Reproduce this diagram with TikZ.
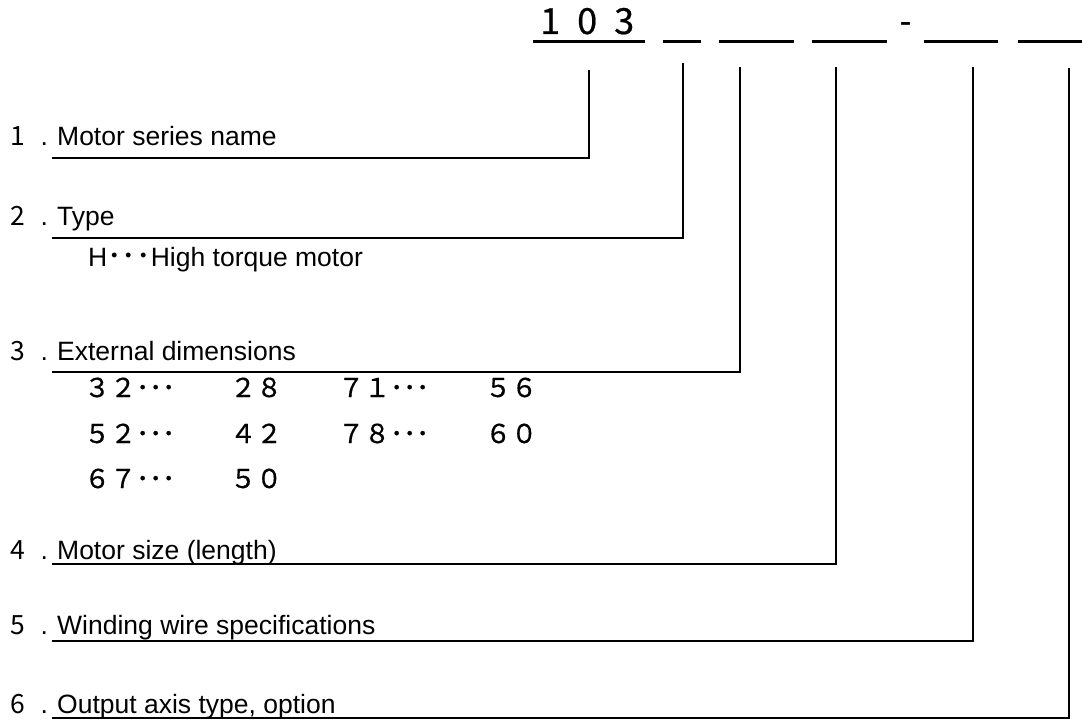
\documentclass[tikz,border=0pt]{standalone}
\usepackage{fontspec}
\setmainfont{Liberation Sans}
\newfontfamily\cjk{Noto Sans CJK JP}
\newfontfamily\cjkb[FakeBold=0.6]{Noto Sans CJK JP}
\newcommand\lblnum[1]{\makebox[26pt]{\cjk #1}\makebox[26pt]{.}}
\newcommand\slotd[1]{\makebox[37pt]{#1}}
\begin{document}
\begin{tikzpicture}[x=1pt,y=-1pt,
  lw/.style={line width=2.2pt},
  lab/.style={anchor=base west, inner sep=0pt, font=\fontsize{26.5}{30}\selectfont},
  dim/.style={anchor=base west, inner sep=0pt, font=\cjkb\fontsize{26}{30}\selectfont},
  big/.style={inner sep=0pt, font=\cjkb\fontsize{36}{40}\selectfont}]
\useasboundingbox (0,0) rectangle (1082,720);
% model code
\node[big, anchor=base west] (code) at (531.5,34) {\slotd{1}\slotd{0}\slotd{3}};
\node[big, anchor=base, font=\fontsize{36}{40}\selectfont] (dash) at (905.5,34) {-};
% slots
\draw[lw] (533,41.5) -- (645,41.5);
\draw[lw] (663,41.5) -- (701,41.5);
\draw[lw] (719,41.5) -- (794,41.5);
\draw[lw] (812,41.5) -- (887,41.5);
\draw[lw] (924,41.5) -- (998,41.5);
\draw[lw] (1018,41.5) -- (1082,41.5);
% connector tops
\coordinate (s1) at (589,70);
\coordinate (s2) at (683,63);
\coordinate (s3) at (740,67);
\coordinate (s4) at (836,67);
\coordinate (s5) at (973,67);
\coordinate (s6) at (1069,68);
% connector ends
\coordinate (e1) at (52,158);
\coordinate (e2) at (52,238);
\coordinate (e3) at (52,372);
\coordinate (e4) at (52,564);
\coordinate (e5) at (52,641);
\coordinate (e6) at (52,718);
% labels
\node[lab] (t1) at (5,145) {\lblnum{1}Motor series name};
\node[lab] (t2) at (5,225) {\lblnum{2}Type};
\node[lab] (h) at (88,266) {H{\cjk\fontsize{29}{30}\selectfont ･･･}High torque motor};
\node[lab] (t3) at (5,360) {\lblnum{3}External dimensions};
\node[dim] (d11) at (84,397) {３２･･･};
\node[dim] (d12) at (230,397) {２８};
\node[dim] (d13) at (338,397) {７１･･･};
\node[dim] (d14) at (485,397) {５６};
\node[dim] (d21) at (84,443) {５２･･･};
\node[dim] (d22) at (230,443) {４２};
\node[dim] (d23) at (338,443) {７８･･･};
\node[dim] (d24) at (485,443) {６０};
\node[dim] (d31) at (84,488) {６７･･･};
\node[dim] (d32) at (230,488) {５０};
\node[lab] (t4) at (5,559) {\lblnum{4}Motor size (length)};
\node[lab] (t5) at (5,634) {\lblnum{5}Winding wire specifications};
\node[lab] (t6) at (5,713) {\lblnum{6}Output axis type, option};
% connectors
\draw[lw] (s1) |- (e1);
\draw[lw] (s2) |- (e2);
\draw[lw] (s3) |- (e3);
\draw[lw] (s4) |- (e4);
\draw[lw] (s5) |- (e5);
\draw[lw] (s6) |- (e6);
\end{tikzpicture}
\end{document}
